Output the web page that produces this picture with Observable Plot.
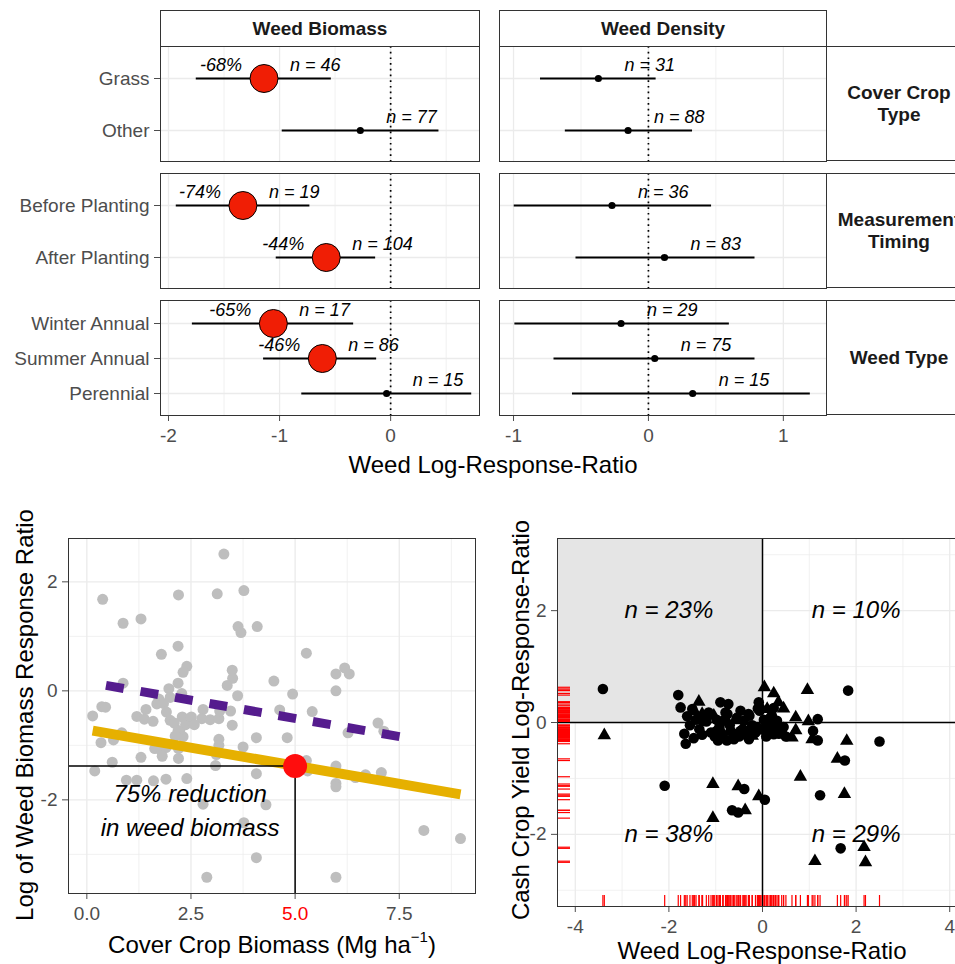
<!DOCTYPE html>
<html>
<head>
<meta charset="utf-8">
<script src="https://cdn.jsdelivr.net/npm/d3@7"></script>
<script src="https://cdn.jsdelivr.net/npm/@observablehq/plot@0.6"></script>
<style>
  body { margin: 0; background: white; }
  #root { position: relative; width: 955px; height: 964px; overflow: hidden; background: white;
          font-family: 'Liberation Sans', Arial, Helvetica, sans-serif; }
  .strip { position: absolute; box-sizing: border-box; border: 1px solid #333; background: white;
           display: flex; align-items: center; justify-content: center; text-align: center;
           font-weight: bold; font-size: 19px; color: #1a1a1a; line-height: 1.15; white-space: pre; }
  .title { position: absolute; white-space: nowrap; font-size: 24px; color: black; line-height: 1;
           transform: translate(-50%, -50%); }
  .title.rot { transform: translate(-50%, -50%) rotate(-90deg); }
</style>
</head>
<body>
<div id="root"></div>
<script>
// ---------------- DATA ----------------
// Top: meta-analysis forest panels
const groupLabels = ["Cover Crop\nType", "Measurement\nTiming", "Weed Type"];
const groupCats = [["Grass", "Other"], ["Before Planting", "After Planting"], ["Winter Annual", "Summer Annual", "Perennial"]];
const biomassEst = [-1.14, -0.273, -1.33, -0.58, -1.056, -0.615, -0.036];
const biomassLo  = [-1.75, -0.976, -1.93, -1.03, -1.785, -1.144, -0.80];
const biomassHi  = [-0.534, 0.435, -0.727, -0.135, -0.333, -0.126, 0.73];
const biomassN   = [46, 77, 19, 104, 17, 86, 15];
const biomassPct = ["-68%", null, "-74%", "-44%", "-65%", "-46%", null];
const densityEst = [-0.371, -0.151, -0.27, 0.119, -0.203, 0.047, 0.328];
const densityLo  = [-0.80, -0.616, -0.995, -0.537, -0.99, -0.70, -0.563];
const densityHi  = [0.057, 0.327, 0.468, 0.79, 0.60, 0.79, 1.2];
const densityN   = [31, 88, 36, 83, 29, 75, 15];
const densityPct = [null, null, null, null, null, null, null];
const biomassTicks = [-2, -1, 0];
const biomassMinor = [-1.5, -0.5, 0.5];
const densityTicks = [-1, 0, 1];
const densityMinor = [-0.5, 0.5];

// Bottom-left: cover crop biomass vs weed biomass LRR
const biomassPoints = [
  [0.38,1.68],[0.87,1.24],[1.30,1.32],[2.20,1.76],[3.13,1.78],[3.29,2.51],[3.77,1.84],[3.63,1.18],[3.70,1.07],[4.09,1.18],
  [2.19,0.82],[1.79,0.67],[5.27,0.69],[2.40,0.45],[2.31,0.34],[3.49,0.38],[3.50,0.23],[3.37,0.10],[4.49,0.18],[6.19,0.42],
  [6.30,0.31],[5.98,0.31],[5.98,0.0],[4.94,-0.06],[0.87,0.14],[2.19,0.14],[1.97,0.04],[2.00,-0.12],[2.28,-0.05],[3.62,-0.09],
  [0.36,-0.29],[0.45,-0.30],[0.14,-0.46],[0.34,-0.95],[0.64,-0.90],[0.84,-0.77],[0.61,-1.31],[0.19,-1.47],[0.95,-1.64],[1.20,-0.47],
  [1.42,-0.34],[1.38,-0.52],[1.59,-0.56],[1.68,-0.24],[1.73,-0.15],[1.84,-0.23],[1.91,-0.39],[2.00,-0.54],[2.10,-0.59],[2.23,-0.73],
  [2.31,-0.84],[2.37,-0.62],[2.29,-0.48],[2.79,-0.34],[2.76,-0.51],[2.96,-0.53],[3.17,-0.51],[3.19,-0.37],[3.45,-0.37],[3.49,-0.63],
  [3.17,-0.89],[3.17,-1.00],[3.11,-1.17],[3.09,-1.37],[1.63,-1.06],[1.79,-1.10],[1.90,-1.04],[1.81,-1.20],[1.30,-1.22],[2.20,-1.24],
  [2.20,-1.06],[1.20,-1.64],[1.60,-1.65],[1.90,-1.62],[2.40,-1.61],[3.75,-1.03],[4.07,-0.86],[4.63,-0.35],[4.81,-0.86],[5.41,-0.38],
  [6.27,-0.77],[6.99,-0.59],[7.13,-0.74],[5.27,-1.28],[5.30,-1.47],[5.98,-1.38],[5.98,-1.70],[5.98,-1.76],[6.45,-1.59],[6.69,-1.54],
  [7.07,-1.50],[4.07,-1.52],[2.79,-2.08],[4.30,-2.09],[3.77,-2.42],[8.09,-2.56],[8.97,-2.71],[4.07,-3.06],[2.88,-3.42],[5.98,-3.42],
  [2.19,-0.73],[2.12,-0.83],[2.51,-0.48],[2.58,-0.62]
];
const solidFitX = [0.14, 8.97];
const solidFitY = [-0.73, -1.90];
const dashedFitX = [0.46, 7.73];
const dashedFitY = [0.10, -0.87];
const highlightX = 5.0;
const highlightY = -1.38;
const annotationLines = ["75% reduction", "in weed biomass"];
const annotationX = [2.48, 2.48];
const annotationY = [-1.9, -2.52];
const coverTicks = [0, 2.5, 5, 7.5];
const coverMinor = [1.25, 3.75, 6.25, 8.75];
const lrrTicks = [-2, 0, 2];
const lrrMinor = [-3, -1, 1];

// Bottom-right: weed LRR vs cash crop yield LRR
const yieldCircles = [
  [-3.41,0.60],[-2.09,-1.13],[-1.80,0.49],[-1.75,0.27],[-1.61,0.11],[-1.67,-0.20],[-1.64,-0.38],[-1.47,-0.28],[-1.29,-0.22],[-1.50,0.24],
  [-0.90,0.36],[-0.73,0.33],[-0.79,0.18],[-0.47,0.21],[-0.28,0.12],[-0.08,0.36],[-0.06,0.21],[-0.95,-0.32],[-0.76,-0.32],[-0.61,-0.30],
  [-0.29,-0.30],[-0.98,-0.15],[-0.68,-0.15],[-0.47,-0.15],[-0.11,-0.09],[0.10,-0.15],[0.24,-0.21],[0.41,-0.15],[1.18,0.06],[1.08,-0.15],
  [1.18,-0.32],[1.83,0.57],[2.50,-0.34],[1.76,-0.68],[1.23,-1.30],[1.67,-2.25],[-0.39,-1.19],[0.05,-1.38],[-0.65,-1.57],[-0.52,-1.61],
  [0.17,0.09],[0.31,0.03],[-0.84,0.03],[-0.40,0.03],[-1.28,0.03],[0.24,0.26],
  [-1.55,-0.05],[-1.42,0.05],[-1.35,-0.12],[-1.20,0.02],[-1.10,-0.18],[-1.02,-0.25],[-0.92,-0.08],[-0.85,-0.22],[-0.70,-0.05],[-0.62,-0.20],
  [-0.55,0.08],[-0.50,-0.25],[-0.42,-0.12],[-0.35,-0.22],[-0.30,0.15],[-0.22,-0.05],[-0.15,-0.18],[-0.10,0.25],[-0.03,-0.12],[0.03,0.05],
  [0.08,-0.25],[0.14,-0.05],[0.20,0.12],[0.28,-0.10],[0.35,-0.20],[0.45,-0.08],[0.50,-0.25],[-1.15,0.18],[-0.98,0.05],[-0.75,0.15]
];
const yieldTriangles = [
  [-3.38,-0.23],[-1.36,0.37],[-1.29,0.15],[-1.04,0.12],[-1.06,-1.10],[-1.06,-1.71],[-0.52,-1.14],[-0.37,-1.57],[-0.08,-1.32],[0.04,0.63],
  [0.24,0.52],[0.34,0.36],[0.10,0.24],[0.71,0.09],[0.96,0.58],[0.98,0.02],[0.71,-0.14],[0.63,-0.27],[1.06,-0.30],[1.80,-0.33],
  [1.60,-0.65],[0.81,-0.97],[1.75,-1.28],[2.17,-2.23],[2.20,-2.50],[1.12,-2.48],[-0.59,0.04],[-0.22,-0.24],[-0.76,0.03],
  [-1.45,0.20],[-0.90,-0.12],[-0.30,-0.15],[0.20,-0.18],[0.45,0.25],[-0.05,0.30]
];
const quadrantLabels = ["n = 23%", "n = 10%", "n = 38%", "n = 29%"];
const quadrantX = [-2, 2, -2, 2];
const quadrantY = [2, 2, -2, -2];
const weedTicks = [-4, -2, 0, 2, 4];
const weedMinor = [-3, -1, 1, 3];
const yieldTicks = [-2, 0, 2];
const yieldMinor = [-3, -1, 1, 3];

// ---------------- LAYOUT / DRAWING ----------------
const FONT = "'Liberation Sans', Arial, Helvetica, sans-serif";
const GRID = "#ebebeb";
const root = document.getElementById("root");

function place(svg, left, top) {
  svg.style.position = "absolute";
  svg.style.left = left + "px";
  svg.style.top = top + "px";
  svg.style.maxWidth = "none";
  svg.style.overflow = "visible";
  svg.style.background = "transparent";
  root.appendChild(svg);
}
function addDiv(cls, html, css) {
  const d = document.createElement("div");
  d.className = cls;
  d.innerHTML = html;
  Object.assign(d.style, css);
  root.appendChild(d);
  return d;
}
const baseStyle = {fontFamily: FONT, fontSize: "19px", color: "#4d4d4d", background: "transparent", overflow: "visible"};

function buildRows(est, lo, hi, n, pct, start, cats) {
  return cats.map((c, i) => ({cat: c, est: est[start + i], lo: lo[start + i], hi: hi[start + i], n: n[start + i], pct: pct[start + i]}));
}

function forest({rows, cats, xDomain, major, minor, width, ml, showY, showX}) {
  const h = 115, mb = showX ? 45 : 0;
  return Plot.plot({
    width, height: h + mb, marginLeft: ml, marginRight: 0, marginTop: 0, marginBottom: mb,
    style: baseStyle,
    x: {domain: xDomain, ticks: major, tickSize: 6, tickPadding: 7, label: null, tickFormat: d => String(d), axis: showX ? "bottom" : null},
    y: {type: "point", domain: cats, padding: 0.6, tickSize: 6, tickPadding: 5, label: null, axis: showY ? "left" : null},
    marks: [
      Plot.ruleX(minor, {stroke: GRID, strokeWidth: 0.7}),
      Plot.ruleX(major, {stroke: GRID, strokeWidth: 1.3}),
      Plot.ruleY(cats, {stroke: GRID, strokeWidth: 1.3}),
      Plot.ruleY(rows, {y: "cat", x1: "lo", x2: "hi", stroke: "black", strokeWidth: 2}),
      Plot.dot(rows.filter(d => !d.pct), {x: "est", y: "cat", r: 3.6, fill: "black", stroke: "none"}),
      Plot.dot(rows.filter(d => d.pct), {x: "est", y: "cat", r: 14, fill: "#f01e05", stroke: "black", strokeWidth: 1}),
      Plot.text(rows, {x: "est", y: "cat", text: d => `n = ${d.n}`, dx: 26, dy: -13, textAnchor: "start", fontSize: 18, fontStyle: "italic", fill: "black"}),
      Plot.text(rows.filter(d => d.pct), {x: "est", y: "cat", text: "pct", dx: -22, dy: -13, textAnchor: "end", fontSize: 18, fontStyle: "italic", fill: "black"}),
      Plot.ruleX([0], {stroke: "black", strokeWidth: 1.7, strokeDasharray: "1.7,4"}),
      Plot.frame({stroke: "#333", strokeWidth: 1})
    ]
  });
}

// Top section
const rowTops = [46, 173, 300];
const biomassDomain = [-2.072, 0.80];
const densityDomain = [-1.104, 1.32];
let start = 0;
groupCats.forEach((cats, gi) => {
  const last = gi === groupCats.length - 1;
  const bRows = buildRows(biomassEst, biomassLo, biomassHi, biomassN, biomassPct, start, cats);
  const dRows = buildRows(densityEst, densityLo, densityHi, densityN, densityPct, start, cats);
  place(forest({rows: bRows, cats, xDomain: biomassDomain, major: biomassTicks, minor: biomassMinor, width: 479, ml: 160, showY: true, showX: last}), 0, rowTops[gi]);
  place(forest({rows: dRows, cats, xDomain: densityDomain, major: densityTicks, minor: densityMinor, width: 327, ml: 0, showY: false, showX: last}), 499, rowTops[gi]);
  addDiv("strip", groupLabels[gi], {left: "826px", top: rowTops[gi] + "px", width: "146px", height: "115px"});
  start += cats.length;
});
addDiv("strip", "Weed Biomass", {left: "160px", top: "10px", width: "320px", height: "37px"});
addDiv("strip", "Weed Density", {left: "499px", top: "10px", width: "328px", height: "37px"});
addDiv("title", "Weed Log-Response-Ratio", {left: "493px", top: "465px"});

// Bottom-left scatter
const blX = [-0.44, 9.33], blY = [-3.718, 2.795];
const solidFit = solidFitX.map((x, i) => ({x, y: solidFitY[i]}));
const dashedFit = dashedFitX.map((x, i) => ({x, y: dashedFitY[i]}));
const annot = annotationLines.map((t, i) => ({t, x: annotationX[i], y: annotationY[i]}));
const bl = Plot.plot({
  width: 480, height: 444, marginLeft: 68, marginRight: 5, marginTop: 18, marginBottom: 71,
  style: baseStyle,
  x: {domain: blX, ticks: coverTicks, tickFormat: ".1f", tickSize: 6, tickPadding: 7, label: null},
  y: {domain: blY, ticks: lrrTicks, tickFormat: d => String(d), tickSize: 6, tickPadding: 5, label: null},
  marks: [
    Plot.ruleX(coverMinor, {stroke: GRID, strokeWidth: 0.7}),
    Plot.ruleY(lrrMinor, {stroke: GRID, strokeWidth: 0.7}),
    Plot.ruleX(coverTicks, {stroke: GRID, strokeWidth: 1.3}),
    Plot.ruleY(lrrTicks, {stroke: GRID, strokeWidth: 1.3}),
    Plot.dot(biomassPoints, {x: d => d[0], y: d => d[1], r: 5.5, fill: "#bebebe", stroke: "none"}),
    Plot.line(dashedFit, {x: "x", y: "y", stroke: "#551c8e", strokeWidth: 9, strokeDasharray: "18,17", strokeLinecap: "butt"}),
    Plot.line(solidFit, {x: "x", y: "y", stroke: "#e6b000", strokeWidth: 10, strokeLinecap: "butt"}),
    Plot.ruleY([{y: highlightY, x1: blX[0], x2: highlightX}], {y: "y", x1: "x1", x2: "x2", stroke: "black", strokeWidth: 1.5}),
    Plot.ruleX([{x: highlightX, y1: blY[0], y2: highlightY}], {x: "x", y1: "y1", y2: "y2", stroke: "black", strokeWidth: 1.5}),
    Plot.dot([{x: highlightX, y: highlightY}], {x: "x", y: "y", r: 12, fill: "#ff0d0d", stroke: "none"}),
    Plot.text(annot, {x: "x", y: "y", text: "t", fontSize: 24, fontStyle: "italic", fill: "black"}),
    Plot.frame({stroke: "#333", strokeWidth: 1})
  ]
});
bl.querySelectorAll("text").forEach(t => { if (t.textContent === "5.0") { t.setAttribute("fill", "red"); t.style.fill = "red"; } });
place(bl, 0, 520);
addDiv("title", "Cover Crop Biomass (Mg ha<sup style='font-size:15px;position:relative;top:-2px'>−1</sup>)", {left: "272px", top: "944px"});
addDiv("title rot", "Log of Weed Biomass Response Ratio", {left: "25px", top: "715px"});

// Bottom-right scatter
const brX = [-4.38, 4.38], brY = [-3.29, 3.29];
const allYield = yieldCircles.concat(yieldTriangles);
const frameW = 487 - 77, frameH = 444 - 18 - 58;
const quads = quadrantLabels.map((t, i) => ({t, x: quadrantX[i], y: quadrantY[i]}));
const br = Plot.plot({
  width: 487, height: 444, marginLeft: 77, marginRight: 0, marginTop: 18, marginBottom: 58,
  style: baseStyle,
  x: {domain: brX, ticks: weedTicks, tickFormat: d => String(d), tickSize: 6, tickPadding: 7, label: null},
  y: {domain: brY, ticks: yieldTicks, tickFormat: d => String(d), tickSize: 6, tickPadding: 5, label: null},
  marks: [
    Plot.ruleX(weedMinor, {stroke: GRID, strokeWidth: 0.7}),
    Plot.ruleY(yieldMinor, {stroke: GRID, strokeWidth: 0.7}),
    Plot.ruleX(weedTicks, {stroke: GRID, strokeWidth: 1.3}),
    Plot.ruleY(yieldTicks, {stroke: GRID, strokeWidth: 1.3}),
    Plot.rect([{x1: brX[0], x2: 0, y1: 0, y2: brY[1]}], {x1: "x1", x2: "x2", y1: "y1", y2: "y2", fill: "#e5e5e5"}),
    Plot.ruleX([0], {stroke: "black", strokeWidth: 1.5}),
    Plot.ruleY([0], {stroke: "black", strokeWidth: 1.5}),
    Plot.ruleX(allYield, {x: d => d[0], stroke: "#ff0000", strokeWidth: 1.2, insetTop: frameH - 11}),
    Plot.ruleY(allYield, {y: d => d[1], stroke: "#ff0000", strokeWidth: 1.2, insetRight: frameW - 13}),
    Plot.dot(yieldCircles, {x: d => d[0], y: d => d[1], r: 5.3, fill: "black", stroke: "none"}),
    Plot.dot(yieldTriangles, {x: d => d[0], y: d => d[1], r: 5, symbol: "triangle", fill: "black", stroke: "none"}),
    Plot.text(quads, {x: "x", y: "y", text: "t", fontSize: 24, fontStyle: "italic", fill: "black"}),
    Plot.frame({stroke: "#333", strokeWidth: 1})
  ]
});
place(br, 480, 520);
addDiv("title", "Weed Log-Response-Ratio", {left: "762px", top: "951px"});
addDiv("title rot", "Cash Crop Yield Log-Response-Ratio", {left: "521px", top: "720px"});
</script>
</body>
</html>
